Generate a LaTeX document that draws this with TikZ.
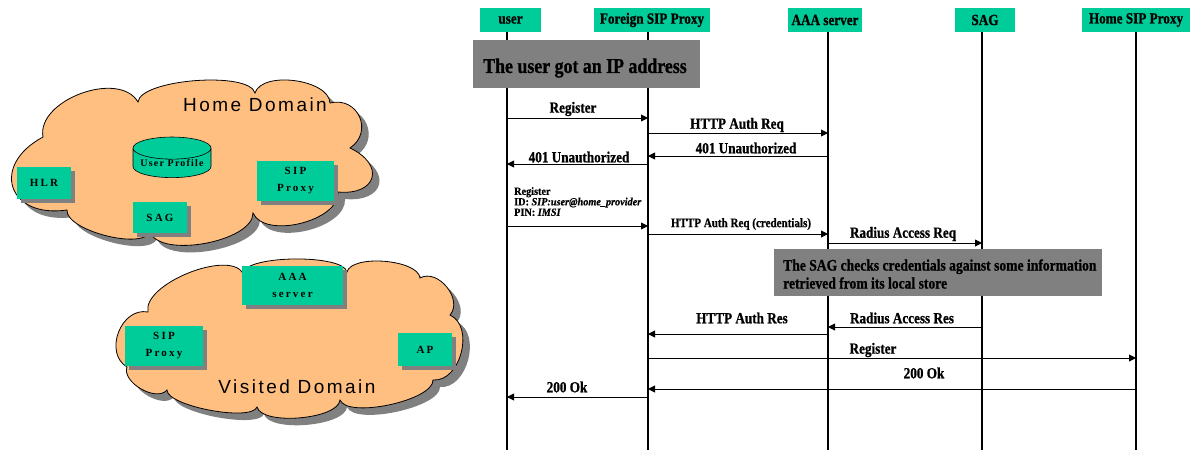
\documentclass[tikz,border=0pt]{standalone}
\usepackage{fontspec}
\setmainfont{Liberation Serif}
\newfontfamily\seqfont{Liberation Serif}[FakeStretch=0.85, FakeBold=0.8]
\newfontfamily\smallseq{Liberation Serif}[FakeStretch=0.93, FakeBold=0.5]
\newfontfamily\domfont{Liberation Sans}[LetterSpace=13]
\newfontfamily\unitfont{Liberation Serif}[LetterSpace=20]
\newfontfamily\dbfont{Liberation Serif}[LetterSpace=12]
\usetikzlibrary{arrows.meta,shapes.geometric,shadows}

\definecolor{unitgreen}{HTML}{00CC99}
\definecolor{cloudorange}{HTML}{FFBF80}
\definecolor{notegray}{HTML}{808080}

% message between two lifelines at height #3, endpoints named #4a / #4b
\newcommand\seqmsg[4]{%
  \path (#1-top |- 0,#3) coordinate (#4a) (#2-top |- 0,#3) coordinate (#4b);
  \draw[msg] (#4a) -- (#4b);}

% outlines of the two network domains (clockwise, puff by puff)
\newcommand\homeoutline{%
  (67,210) to[bend left=80, looseness=2.0] (43,137)
  to[bend left=80, looseness=0.95] (138,102)
  to[bend left=80, looseness=0.5] (255,93)
  to[bend left=80, looseness=0.8] (330,103)
  to[bend left=80, looseness=1.5] (350,148)
  to[bend left=80, looseness=2.2] (338,192)
  to[bend left=80, looseness=0.85] (253,213)
  to[bend left=80, looseness=0.7] (150,232)
  to[bend left=80, looseness=0.6] (67,210) -- cycle}
\newcommand\visitedoutline{%
  (127,367) to[bend left=80, looseness=1.2] (148,312)
  to[bend left=80, looseness=0.7] (243,273)
  to[bend left=80, looseness=0.45] (347,272)
  to[bend left=80, looseness=0.65] (420,278)
  to[bend left=80, looseness=1.1] (450,315)
  to[bend left=80, looseness=1.05] (433,380)
  to[bend left=80, looseness=0.55] (340,400)
  to[bend left=80, looseness=0.6] (257,407)
  to[bend left=80, looseness=0.45] (167,390)
  to[bend left=80, looseness=0.9] (127,367) -- cycle}

\begin{document}
\begin{tikzpicture}[x=1pt,y=-1pt,
  hdr/.style={fill=unitgreen, minimum height=24pt, inner sep=0pt,
    font=\seqfont\bfseries\fontsize{15.5}{16}\selectfont},
  life/.style={line width=1.4pt},
  msg/.style={line width=0.9pt,-{Triangle[length=7pt,width=7pt]}},
  lbl/.style={inner sep=0pt, font=\seqfont\bfseries\fontsize{15.5}{16}\selectfont},
  note/.style={fill=notegray, inner sep=0pt},
  unit/.style={fill=unitgreen, inner sep=0pt, align=center,
    font=\unitfont\bfseries\fontsize{11}{17}\selectfont,
    drop shadow={shadow xshift=3.5pt, shadow yshift=-3.5pt, fill=notegray, opacity=1}},
  cloudline/.style={draw=black, line width=0.8pt, fill=cloudorange},
  cloudshade/.style={fill=notegray, shift={(7,7)}},
  domlabel/.style={inner sep=0pt, font=\domfont\fontsize{19}{20}\selectfont}
]
\useasboundingbox (0,0) rectangle (1197,450);

% ---------- network domains ----------
\fill[cloudshade] \homeoutline;
\path[cloudline] \homeoutline;
\fill[cloudshade] \visitedoutline;
\path[cloudline] \visitedoutline;
\node[domlabel] (homelbl) at (255,105) {Home Domain};
\node[domlabel] (vislbl) at (297,387) {Visited Domain};

\node[unit, minimum width=54pt, minimum height=32pt] (hlr) at (44,183) {HLR};
\node[cylinder, shape border rotate=90, aspect=0.35, draw=black, line width=0.6pt, fill=unitgreen,
  minimum width=78pt, minimum height=40pt, inner sep=0pt,
  font=\dbfont\bfseries\fontsize{10}{11}\selectfont] (profile) at (172,163) {User Profile};
\node[unit, minimum width=77pt, minimum height=40pt] (homesip) at (295.5,181) {SIP\\Proxy};
\node[unit, minimum width=54pt, minimum height=31pt] (homesag) at (160,217.5) {SAG};

\node[unit, minimum width=101pt, minimum height=39pt] (aaa) at (292.5,285.5) {AAA\\server};
\node[unit, minimum width=78pt, minimum height=40pt] (vissip) at (164,346) {SIP\\Proxy};
\node[unit, minimum width=54pt, minimum height=33pt] (ap) at (425,349.5) {AP};

% ---------- sequence diagram ----------
\node[hdr, minimum width=61pt] (huser) at (510.5,20) {user};
\node[hdr, minimum width=116pt] (hfsp) at (652,20) {Foreign SIP Proxy};
\node[hdr, minimum width=74pt] (haaa) at (825,20) {AAA server};
\node[hdr, minimum width=60pt] (hsag) at (985,20) {SAG};
\node[hdr, minimum width=108pt] (hhsp) at (1136,20) {Home SIP Proxy};

\foreach \n/\x in {user/507, fsp/648, aaa/828, sag/982, hsp/1136} {
  \coordinate (\n-top) at (\x,32);
  \coordinate (\n-bot) at (\x,450);
  \draw[life] (\n-top) -- (\n-bot);
}

\node[note, minimum width=227pt, minimum height=48pt] (ipnote) at (586.5,64) {};
\node[inner sep=0pt, font=\seqfont\bfseries\fontsize{21}{22}\selectfont] (iptext) at (585,68)
  {The user got an IP address};

\seqmsg{user}{fsp}{118}{m1}
\node[lbl] (l1) at (573,109) {Register};
\seqmsg{fsp}{aaa}{133}{m2}
\node[lbl] (l2) at (737,125) {HTTP Auth Req};
\seqmsg{aaa}{fsp}{156}{m3}
\node[lbl] (l3) at (746,148) {401 Unauthorized};
\seqmsg{fsp}{user}{164}{m4}
\node[lbl] (l4) at (579,157) {401 Unauthorized};

\node[anchor=north west, inner sep=0pt, align=left,
  font=\smallseq\bfseries\fontsize{11}{10.5}\selectfont] (l5) at (514,187)
  {Register\\ID: \textit{SIP:user@home\_provider}\\PIN: \textit{IMSI}};
\seqmsg{user}{fsp}{226}{m5}
\seqmsg{fsp}{aaa}{234}{m6}
\node[lbl, font=\seqfont\bfseries\fontsize{13}{14}\selectfont] (l6) at (741,224) {HTTP Auth Req (credentials)};
\seqmsg{aaa}{sag}{243}{m7}
\node[lbl] (l7) at (903,234) {Radius Access Req};

\node[note, minimum width=328pt, minimum height=47pt] (sagnote) at (938,272.5) {};
\node[anchor=west, inner sep=0pt, align=left,
  font=\seqfont\bfseries\fontsize{16}{18}\selectfont] (sagtext) at (783,274)
  {The SAG checks credentials against some information\\retrieved from its local store};

\seqmsg{sag}{aaa}{327}{m8}
\node[lbl] (l8) at (902,318) {Radius Access Res};
\seqmsg{aaa}{fsp}{334}{m9}
\node[lbl] (l9) at (742,318) {HTTP Auth Res};
\seqmsg{fsp}{hsp}{358}{m10}
\node[lbl] (l10) at (873,350) {Register};
\seqmsg{hsp}{fsp}{389}{m11}
\node[lbl] (l11) at (924,373) {200 Ok};
\seqmsg{fsp}{user}{397}{m12}
\node[lbl] (l12) at (567,387) {200 Ok};
\end{tikzpicture}
\end{document}
